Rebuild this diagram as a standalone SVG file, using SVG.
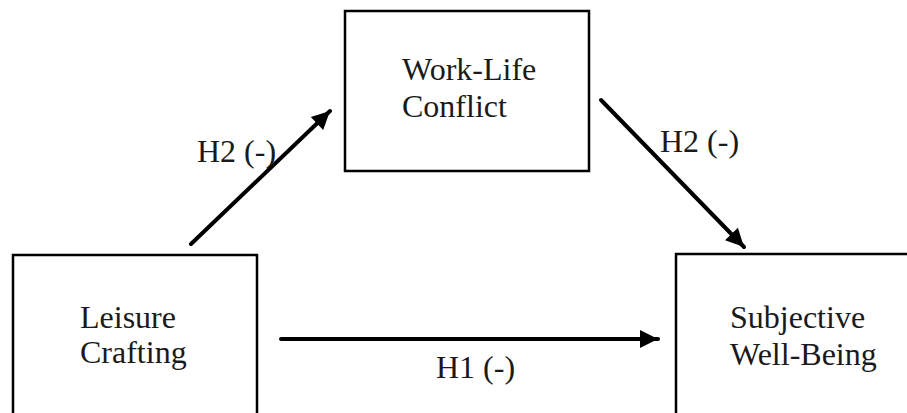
<svg xmlns="http://www.w3.org/2000/svg" width="907" height="413" viewBox="0 0 907 413">
<style>
.box{fill:#fff;stroke:#000;stroke-width:2.5}
.t{font-family:"Liberation Serif","Times New Roman",serif;font-size:32px;fill:#1a1a1a}
.c{stroke:#000;stroke-width:4;fill:none;stroke-linecap:round}
</style>
<defs>
<marker id="ah" markerUnits="userSpaceOnUse" markerWidth="22" markerHeight="22" viewBox="0 0 22 22" refX="20" refY="11" orient="auto">
<path d="M2,2 L20,11 L2,20 Z" fill="#000"/>
</marker>
</defs>
<rect width="907" height="413" fill="#fff"/>
<g id="leisure-crafting">
<rect class="box" x="13" y="255" width="244" height="170"/>
<text class="t" x="80" y="328">Leisure</text>
<text class="t" x="80" y="363">Crafting</text>
</g>
<g id="work-life-conflict">
<rect class="box" x="345" y="11" width="244" height="160"/>
<text class="t" x="402" y="80">Work-Life</text>
<text class="t" x="402" y="117">Conflict</text>
</g>
<g id="subjective-well-being">
<rect class="box" x="676" y="254" width="260" height="170"/>
<text class="t" x="730" y="328">Subjective</text>
<text class="t" x="730" y="365">Well-Being</text>
</g>
<g id="connectors">
<line class="c" x1="191" y1="244" x2="330" y2="111" marker-end="url(#ah)"/>
<line class="c" x1="601" y1="100" x2="744" y2="247" marker-end="url(#ah)"/>
<line class="c" x1="281" y1="339" x2="658" y2="339" marker-end="url(#ah)"/>
<text class="t" x="197" y="162">H2 (-)</text>
<text class="t" x="660" y="152">H2 (-)</text>
<text class="t" x="436" y="378">H1 (-)</text>
</g>
</svg>
